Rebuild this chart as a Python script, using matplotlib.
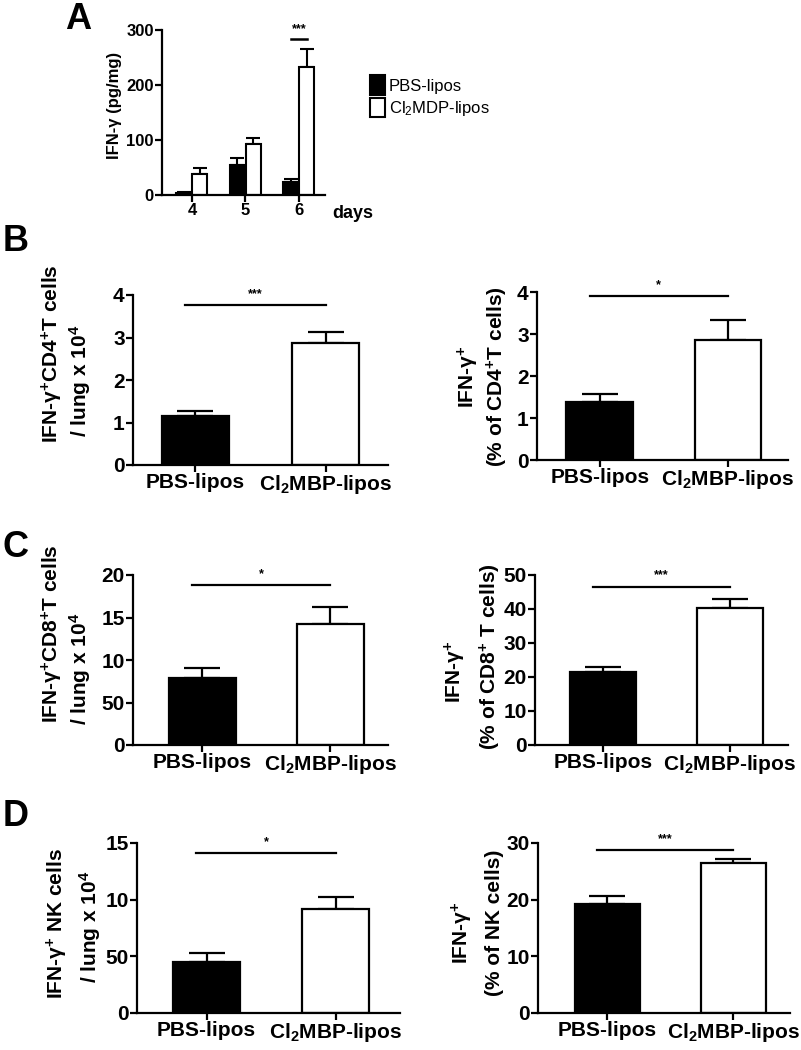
import numpy as np
import matplotlib
matplotlib.use("Agg")
import matplotlib.pyplot as plt
from matplotlib.patches import Patch
from matplotlib.transforms import ScaledTranslation

plt.rcParams['font.family'] = ['Liberation Sans', 'DejaVu Sans']
plt.rcParams['font.weight'] = 'bold'
plt.rcParams['mathtext.fontset'] = 'custom'
plt.rcParams['mathtext.rm'] = 'Liberation Sans:bold'
plt.rcParams['mathtext.it'] = 'Liberation Sans:bold'
plt.rcParams['mathtext.bf'] = 'Liberation Sans:bold'
plt.rcParams['mathtext.default'] = 'regular'

# ---- data ----
groups = ['PBS-lipos', 'Cl$_2$MBP-lipos']

a_days = ['4', '5', '6']
a_pbs = [4, 55, 24]
a_pbs_err = [1, 13, 6]
a_cl2 = [39, 93, 233]
a_cl2_err = [11, 11, 32]

b1_vals = [1.15, 2.86]; b1_err = [0.12, 0.28]
b2_vals = [1.39, 2.85]; b2_err = [0.18, 0.49]
c1_vals = [7.9, 14.2]; c1_err = [1.2, 2.0]
c2_vals = [21.4, 40.2]; c2_err = [1.4, 2.6]
d1_vals = [4.5, 9.2]; d1_err = [0.8, 1.0]
d2_vals = [19.3, 26.4]; d2_err = [1.3, 0.8]

W, H = 801, 1050
fig = plt.figure(figsize=(W / 100, H / 100), dpi=100)
shift_left = ScaledTranslation(-8 / 100, 0, fig.dpi_scale_trans)


def add_ax(left, right, top, bottom):
    return fig.add_axes([left / W, 1 - bottom / H, (right - left) / W, (bottom - top) / H])


def style(ax, tick_fs=15):
    for s in ['top', 'right']:
        ax.spines[s].set_visible(False)
    for s in ['left', 'bottom']:
        ax.spines[s].set_linewidth(1.6)
    ax.tick_params(width=1.6, length=5, labelsize=tick_fs, pad=1)


def two_bar(ax, vals, errs, ymax, yticks, yticklabels, sig, sig_y, xlim):
    x = np.arange(2)
    ax.errorbar(x, vals, yerr=[[0, 0], errs], fmt='none', ecolor='black',
                elinewidth=1.6, capsize=13, capthick=1.6, zorder=1)
    ax.bar(x, vals, width=0.52, color=['black', 'white'], edgecolor='black',
           linewidth=1.6, zorder=2)
    ax.set_xlim(*xlim)
    ax.set_ylim(0, ymax)
    ax.set_yticks(yticks)
    ax.set_yticklabels(yticklabels)
    ax.set_xticks(x)
    ax.set_xticklabels(groups, fontsize=18)
    for lab in ax.get_xticklabels():
        lab.set_transform(lab.get_transform() + shift_left)
    style(ax)
    ax.plot([-0.08, 1.0], [sig_y, sig_y], color='black', lw=1.6, clip_on=False)
    ax.text(0.46, sig_y + ymax * 0.03, sig, ha='center', va='bottom', fontsize=9)


# ---- panel A ----
axa = add_ax(162, 325, 30, 195)
xa = np.arange(3)
bw = 0.28
axa.errorbar(xa - 0.15, a_pbs, yerr=[np.zeros(3), a_pbs_err], fmt='none', ecolor='black',
             elinewidth=1.5, capsize=5, capthick=1.5, zorder=1)
axa.errorbar(xa + 0.15, a_cl2, yerr=[np.zeros(3), a_cl2_err], fmt='none', ecolor='black',
             elinewidth=1.5, capsize=5, capthick=1.5, zorder=1)
axa.bar(xa - 0.15, a_pbs, width=bw, color='black', edgecolor='black', lw=1.5, zorder=2)
axa.bar(xa + 0.15, a_cl2, width=bw, color='white', edgecolor='black', lw=1.5, zorder=2)
axa.set_xlim(-0.56, 2.49)
axa.set_ylim(0, 300)
axa.set_yticks([0, 100, 200, 300])
axa.set_xticks(xa)
axa.set_xticklabels(a_days)
style(axa, tick_fs=12)
axa.plot([2 - 0.14, 2 + 0.16], [284, 284], color='black', lw=1.8, clip_on=False)
axa.text(2.0, 290, '***', ha='center', va='bottom', fontsize=9)
axa.text(2.62, -33, 'days', ha='left', va='center', fontsize=13)
fig.legend(handles=[Patch(facecolor='black', edgecolor='black', lw=1.5),
                    Patch(facecolor='white', edgecolor='black', lw=1.5)],
           labels=['PBS-lipos', 'Cl$_2$MDP-lipos'],
           loc='upper left', bbox_to_anchor=(362 / W, 1 - 67 / H), frameon=False,
           handlelength=0.9, handleheight=1.4, handletextpad=0.2, labelspacing=0.2,
           borderpad=0, prop={'weight': 'normal', 'size': 12})

# ---- panel B ----
axb1 = add_ax(133, 388, 295, 465)
two_bar(axb1, b1_vals, b1_err, 4, [0, 1, 2, 3, 4], ['0', '1', '2', '3', '4'], '***', 3.76, (-0.48, 1.48))
axb2 = add_ax(537, 788, 292, 460)
two_bar(axb2, b2_vals, b2_err, 4, [0, 1, 2, 3, 4], ['0', '1', '2', '3', '4'], '*', 3.9, (-0.49, 1.47))

# ---- panel C ----
axc1 = add_ax(133, 388, 575, 745)
two_bar(axc1, c1_vals, c1_err, 20, [0, 5, 10, 15, 20], ['0', '50', '10', '15', '20'], '*', 18.8, (-0.54, 1.45))
axc2 = add_ax(535, 788, 575, 745)
two_bar(axc2, c2_vals, c2_err, 50, [0, 10, 20, 30, 40, 50], ['0', '10', '20', '30', '40', '50'], '***', 46.6, (-0.54, 1.46))

# ---- panel D ----
axd1 = add_ax(137, 400, 843, 1013)
two_bar(axd1, d1_vals, d1_err, 15, [0, 5, 10, 15], ['0', '50', '10', '15'], '*', 14.1, (-0.54, 1.5))
axd2 = add_ax(538, 790, 843, 1013)
two_bar(axd2, d2_vals, d2_err, 30, [0, 10, 20, 30], ['0', '10', '20', '30'], '***', 28.8, (-0.55, 1.45))


# ---- y labels (figure pixel coordinates) ----
def ylab(x, y, s, fs=15):
    fig.text(x / W, 1 - y / H, s, rotation=90, ha='center', va='center', fontsize=fs)


ylab(115, 105, 'IFN-γ (pg/mg)', fs=12)
ylab(52, 354, 'IFN-γ$^{+}$CD4$^{+}$T cells')
ylab(80, 381, '/ lung x 10$^{4}$')
ylab(468, 377, 'IFN-γ$^{+}$')
ylab(497, 377, '(% of CD4$^{+}$T cells)')
ylab(52, 634, 'IFN-γ$^{+}$CD8$^{+}$T cells')
ylab(80, 669, '/ lung x 10$^{4}$')
ylab(455, 672, 'IFN-γ$^{+}$')
ylab(490, 657, '(% of CD8$^{+}$ T cells)')
ylab(57, 924, 'IFN-γ$^{+}$ NK cells')
ylab(90, 927, '/ lung x 10$^{4}$')
ylab(462, 933, 'IFN-γ$^{+}$')
ylab(495, 923, '(% of NK cells)')

# ---- panel letters ----
for letter, x, y in [('A', 65, 2), ('B', 3, 224), ('C', 3, 530), ('D', 3, 799)]:
    fig.text(x / W, 1 - y / H, letter, ha='left', va='top', fontsize=26)

fig.savefig('out.png', dpi=100)
